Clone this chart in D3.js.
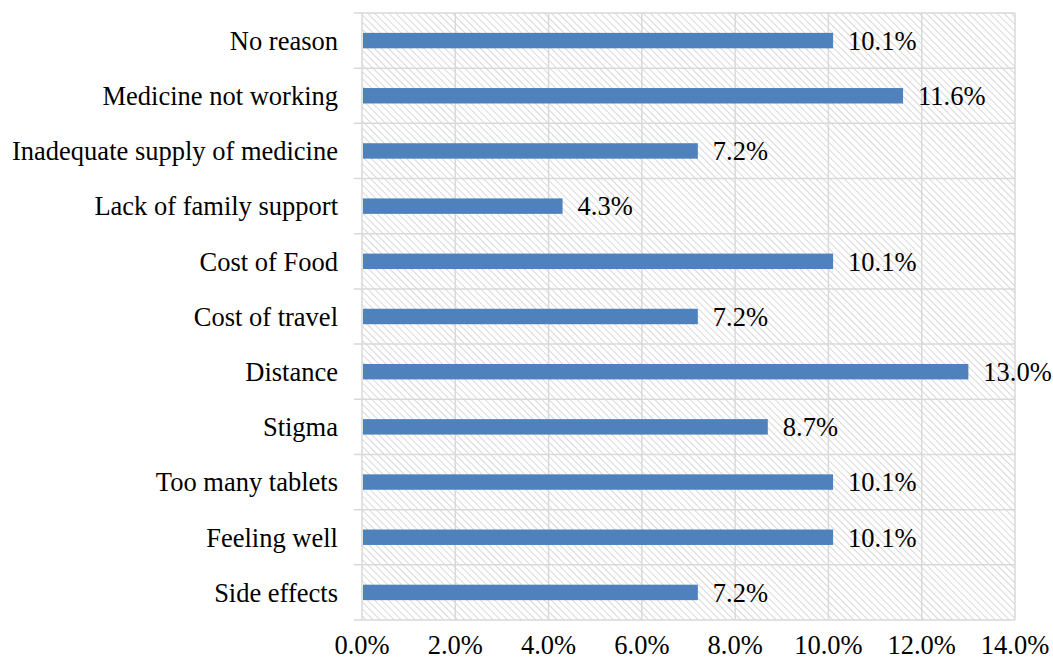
<!DOCTYPE html>
<html>
<head>
<meta charset="utf-8">
<script src="https://cdn.jsdelivr.net/npm/d3@7"></script>
<style>
	body { margin: 0; background: #fff; }
	text { font-family: "Liberation Serif", "Times New Roman", serif; fill: #000; }
</style>
</head>
<body>
<div id="chart"></div>
<script>
// reasons, top to bottom as in the chart
var reasons = ["No reason", "Medicine not working", "Inadequate supply of medicine",
	"Lack of family support", "Cost of Food", "Cost of travel", "Distance",
	"Stigma", "Too many tablets", "Feeling well", "Side effects"];
var percents = [10.1, 11.6, 7.2, 4.3, 10.1, 7.2, 13.0, 8.7, 10.1, 10.1, 7.2];
var xTicks = [0, 2, 4, 6, 8, 10, 12, 14];

var width = 1053,
	height = 661;
var margin = { top: 13, right: 38, bottom: 41, left: 362 };
var fontSize = "26.5px";

var svg = d3.select("#chart")
	.append("svg")
	.attr("width", width)
	.attr("height", height);

// hatched background like the excel pattern fill
var pat = svg.append("defs")
	.append("pattern")
	.attr("id", "hatch")
	.attr("patternUnits", "userSpaceOnUse")
	.attr("width", 5)
	.attr("height", 5)
	.attr("patternTransform", "rotate(-45)");
pat.append("line")
	.attr("x1", 0).attr("y1", 0)
	.attr("x2", 0).attr("y2", 5)
	.attr("stroke", "#d4d4d4")
	.attr("stroke-width", 1.8);

var x = d3.scaleLinear()
	.domain([0, 14])
	.range([margin.left, width - margin.right]);

var y = d3.scaleBand()
	.domain(reasons)
	.range([margin.top, height - margin.bottom])
	.paddingInner(0.72)
	.paddingOuter(0.36);

var bandTop = margin.top,
	bandBottom = height - margin.bottom,
	step = y.step();

svg.append("rect")
	.attr("x", x(0))
	.attr("y", bandTop)
	.attr("width", x(14) - x(0))
	.attr("height", bandBottom - bandTop)
	.attr("fill", "url(#hatch)");

// vertical grid lines
svg.selectAll(".vgrid")
	.data(xTicks)
	.enter()
	.append("line")
	.attr("class", "vgrid")
	.attr("x1", function (d) { return x(d); })
	.attr("x2", function (d) { return x(d); })
	.attr("y1", bandTop)
	.attr("y2", bandBottom)
	.attr("stroke", "#d9d9d9")
	.attr("stroke-width", 1.5);

// horizontal lines between categories (with small outward ticks)
var bounds = d3.range(reasons.length + 1);
svg.selectAll(".hgrid")
	.data(bounds)
	.enter()
	.append("line")
	.attr("class", "hgrid")
	.attr("x1", x(0) - 8)
	.attr("x2", x(14))
	.attr("y1", function (i) { return bandTop + i * step; })
	.attr("y2", function (i) { return bandTop + i * step; })
	.attr("stroke", "#d9d9d9")
	.attr("stroke-width", 1.5);

// bars
svg.selectAll(".bar")
	.data(percents)
	.enter()
	.append("rect")
	.attr("class", "bar")
	.attr("x", x(0) + 1)
	.attr("y", function (d, i) { return y(reasons[i]); })
	.attr("width", function (d) { return x(d) - x(0) - 1; })
	.attr("height", y.bandwidth())
	.attr("fill", "#4f81bd");

// value labels
svg.selectAll(".val")
	.data(percents)
	.enter()
	.append("text")
	.attr("class", "val")
	.attr("x", function (d) { return x(d) + 15; })
	.attr("y", function (d, i) { return y(reasons[i]) + y.bandwidth() / 2; })
	.attr("dy", "0.35em")
	.style("font-size", fontSize)
	.text(function (d) { return d.toFixed(1) + "%"; });

// category labels
svg.selectAll(".cat")
	.data(reasons)
	.enter()
	.append("text")
	.attr("class", "cat")
	.attr("x", x(0) - 24)
	.attr("y", function (d) { return y(d) + y.bandwidth() / 2; })
	.attr("dy", "0.35em")
	.attr("text-anchor", "end")
	.style("font-size", fontSize)
	.text(function (d) { return d; });

// x tick labels
svg.selectAll(".xt")
	.data(xTicks)
	.enter()
	.append("text")
	.attr("class", "xt")
	.attr("x", function (d) { return x(d); })
	.attr("y", 654)
	.attr("text-anchor", "middle")
	.style("font-size", fontSize)
	.text(function (d) { return d.toFixed(1) + "%"; });
</script>
</body>
</html>
